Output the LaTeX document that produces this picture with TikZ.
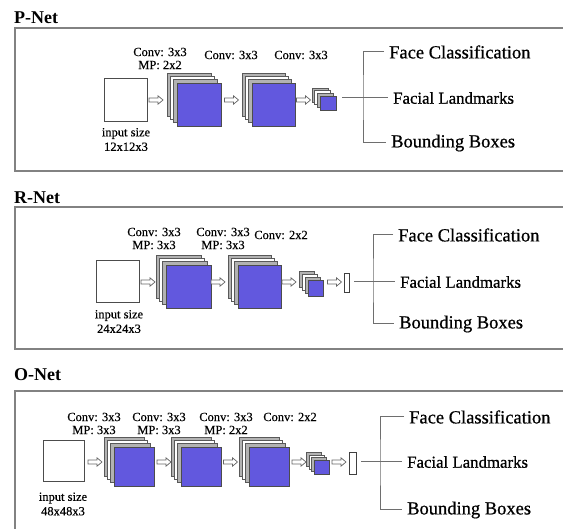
\documentclass[tikz,border=0pt]{standalone}
\usepackage{fontspec}
\setmainfont{Liberation Serif}
\newfontfamily\outfont{Liberation Serif}[FakeBold=0.7]
\newfontfamily\labfont{Liberation Serif}[FakeBold=0.3]
\definecolor{sqblue}{RGB}{98,88,222}
\definecolor{panelgray}{RGB}{130,130,130}
\definecolor{brgray}{RGB}{110,110,110}
\tikzset{
  panel/.style={draw=panelgray, line width=1.3pt},
  nettitle/.style={font=\fontsize{18}{20}\selectfont\bfseries, anchor=west, inner sep=0},
  lab/.style={font=\labfont\fontsize{12.5}{13}\selectfont, align=center, inner sep=0},
  insize/.style={font=\labfont\fontsize{12.5}{14.5}\selectfont, align=center, inner sep=0},
  insq/.style={draw=black!70, fill=white, line width=0.8pt, inner sep=0, anchor=north west},
  bluesq/.style={draw=black!70, fill=sqblue, line width=0.6pt, inner sep=0, anchor=north west},
  backA/.style={draw=black!65, fill=black!30, line width=0.5pt},
  backB/.style={draw=black!65, fill=white, line width=0.5pt},
  harr/.style={draw=black!60, fill=white, line width=0.7pt, line join=miter},
  thinrect/.style={draw=black!75, fill=white, line width=0.9pt, inner sep=0, anchor=north west},
  br/.style={draw=brgray, line width=1pt},
  outbig/.style={font=\outfont\fontsize{18.5}{20}\selectfont, anchor=west, inner sep=0},
  outsm/.style={font=\outfont\fontsize{16.8}{18}\selectfont, anchor=west, inner sep=0},
}
\newcommand\netstack[6]{%
  \draw[backA] ({#2-3*#6},{#3-3*#6}) rectangle ++(#4,#5);
  \draw[backB] ({#2-2*#6},{#3-2*#6}) rectangle ++(#4,#5);
  \draw[backA] ({#2-#6},{#3-#6}) rectangle ++(#4,#5);
  \node[bluesq, minimum width=#4, minimum height=#5] (#1) at (#2,#3) {};
}
% hollow block arrow centred on a named coordinate
\newcommand\hollowarrow[3]{%
  \coordinate (#1) at (#2,#3);
  \draw[harr, shift={(#1)}] (-7,-2) -- (2,-2) -- (2,-4.2) -- (7,0) -- (2,4.2) -- (2,2) -- (-7,2) -- cycle;
}
\begin{document}
\begin{tikzpicture}[x=1pt,y=-1pt]
\useasboundingbox (0,0) rectangle (563,529);
\clip (0,0) rectangle (563,529);
\fill[white] (0,0) rectangle (563,529);

% ================= P-Net =================
\node[nettitle] (ptitle) at (14,18) {P-Net};
\draw[panel] (575,28) -- (15,28) -- (15,171) -- (575,171);
\node[lab] (pl1) at (160,58.5) {Conv: 3x3\\MP: 2x2};
\node[lab] (pl2) at (231,55) {Conv: 3x3};
\node[lab] (pl3) at (301,55) {Conv: 3x3};
\node[insq, minimum width=43, minimum height=43] (pin) at (104,78) {};
\node[insize] (pinl) at (126,139.5) {input size\\12x12x3};
\hollowarrow{pa1}{156}{100}
\netstack{ps1}{177}{83}{44}{43}{3.3}
\hollowarrow{pa2}{231.5}{100}
\netstack{ps2}{252}{83}{43}{43}{3.3}
\hollowarrow{pa3}{303.5}{100}
\netstack{ps3}{320}{96}{16}{14}{2.7}
\node[outbig] (pfc) at (389,52) {Face Classification};
\node[outsm] (pfl) at (393,98) {Facial Landmarks};
\node[outbig] (pbb) at (391,143) {Bounding Boxes};
\coordinate (pv) at (363,98);
\coordinate (pstart) at (342,98);
\draw[br] ([xshift=-5pt]pfc.west) -| (pv) |- ([xshift=-5pt]pbb.west);
\draw[br] (pstart) -- ([xshift=-5pt]pfl.west);

% ================= R-Net =================
\node[nettitle] (rtitle) at (14,198) {R-Net};
\draw[panel] (575,207) -- (15,207) -- (15,349) -- (575,349);
\node[lab] (rl1) at (154,238.5) {Conv: 3x3\\MP: 3x3};
\node[lab] (rl2) at (223,238.5) {Conv: 3x3\\MP: 3x3};
\node[lab] (rl3) at (281,235) {Conv: 2x2};
\node[insq, minimum width=43, minimum height=42] (rin) at (96,260) {};
\node[insize] (rinl) at (119,321.5) {input size\\24x24x3};
\hollowarrow{ra1}{148}{282}
\netstack{rs1}{166}{265}{45}{43}{3.4}
\hollowarrow{ra2}{218}{282}
\netstack{rs2}{238}{265}{43}{43}{3.4}
\hollowarrow{ra3}{289}{282}
\netstack{rs3}{308}{280}{15}{16}{2.8}
\hollowarrow{ra4}{334.5}{282}
\node[thinrect, minimum width=5, minimum height=19] (rt) at (344,273) {};
\node[outbig] (rfc) at (398,235) {Face Classification};
\node[outsm] (rfl) at (400,282) {Facial Landmarks};
\node[outbig] (rbb) at (399,324) {Bounding Boxes};
\coordinate (rv) at (373,282);
\coordinate (rstart) at (354,282);
\draw[br] ([xshift=-5pt]rfc.west) -| (rv) |- ([xshift=-5pt]rbb.west);
\draw[br] (rstart) -- ([xshift=-5pt]rfl.west);

% ================= O-Net =================
\node[nettitle] (otitle) at (14,375) {O-Net};
\draw[panel] (575,391) -- (15,391) -- (15,540);
\node[lab] (ol1) at (94,423.5) {Conv: 3x3\\MP: 3x3};
\node[lab] (ol2) at (159,423.5) {Conv: 3x3\\MP: 3x3};
\node[lab] (ol3) at (226,423.5) {Conv: 3x3\\MP: 2x2};
\node[lab] (ol4) at (290,417) {Conv: 2x2};
\node[insq, minimum width=41, minimum height=41] (oin) at (43,440) {};
\node[insize] (oinl) at (63,504) {input size\\48x48x3};
\hollowarrow{oa1}{95}{462}
\netstack{os1}{114}{447}{40}{39}{3.3}
\hollowarrow{oa2}{164}{462}
\netstack{os2}{181}{447}{40}{39}{3.3}
\hollowarrow{oa3}{230.5}{462}
\netstack{os3}{249}{447}{40}{39}{3.3}
\hollowarrow{oa4}{299}{462}
\netstack{os4}{314}{460}{15}{14}{2.6}
\hollowarrow{oa5}{339}{462}
\node[thinrect, minimum width=7, minimum height=22] (ot) at (349,452) {};
\node[outbig] (ofc) at (409,417) {Face Classification};
\node[outsm] (ofl) at (407,462) {Facial Landmarks};
\node[outbig] (obb) at (407,510) {Bounding Boxes};
\coordinate (ov) at (380,462);
\coordinate (ostart) at (361,462);
\draw[br] ([xshift=-5pt]ofc.west) -| (ov) |- ([xshift=-5pt]obb.west);
\draw[br] (ostart) -- ([xshift=-5pt]ofl.west);
\end{tikzpicture}
\end{document}
